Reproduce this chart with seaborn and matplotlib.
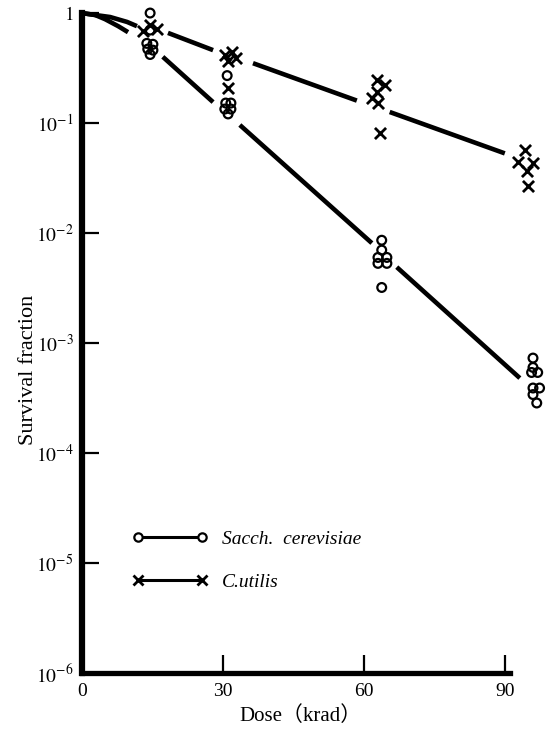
import pandas as pd
import seaborn as sns
import matplotlib.pyplot as plt
from matplotlib.lines import Line2D
from matplotlib.legend_handler import HandlerLine2D
from matplotlib.font_manager import FontProperties

# Sacch. cerevisiae, individual points (open circles)
sacch_dose = [14.5, 14.5, 13.8, 15.1, 14.0, 15.1, 14.5,
              30.9, 30.6, 31.7, 30.4, 31.7, 31.1,
              63.8, 63.8, 63.0, 64.9, 63.0, 64.9, 63.8,
              96.0, 96.0, 95.7, 97.0, 96.0, 97.4, 96.0, 96.8]
sacch_surv = [1.0, 0.70, 0.53, 0.52, 0.47, 0.46, 0.42,
              0.27, 0.152, 0.152, 0.134, 0.134, 0.121,
              0.0086, 0.0070, 0.0060, 0.0060, 0.0053, 0.0053, 0.0032,
              7.3e-4, 6.0e-4, 5.4e-4, 5.4e-4, 3.9e-4, 3.9e-4, 3.4e-4, 2.85e-4]

# C. utilis, individual points (crosses)
utilis_dose = [13.0, 16.0, 14.5,
               30.4, 31.9, 32.8, 31.1, 31.1,
               62.8, 64.5, 62.8, 61.7, 63.0, 63.4,
               94.3, 92.8, 96.0, 94.7, 94.9]
utilis_surv = [0.69, 0.72, 0.78,
               0.415, 0.44, 0.39, 0.37, 0.21,
               0.246, 0.221, 0.191, 0.169, 0.152, 0.081,
               0.057, 0.044, 0.043, 0.037, 0.027]

# survival curves as drawn in the figure, broken around the point clusters
sacch_curve_dose = [0, 2.8, 4.9, 7.7, 9.8, 17.2, 27.9, 33.6, 61.7, 67.0, 93.2]
sacch_curve_surv = [1.0, 0.96, 0.88, 0.76, 0.67, 0.40, 0.155, 0.096, 0.0081, 0.0049, 4.8e-4]
sacch_curve_seg = [0, 0, 0, 0, 0, 1, 1, 2, 2, 3, 3]

utilis_curve_dose = [0, 1.3, 6.0, 9.6, 11.7, 18.3, 27.9, 36.4, 58.5, 65.5, 90.0]
utilis_curve_surv = [1.0, 0.98, 0.92, 0.83, 0.76, 0.66, 0.46, 0.35, 0.16, 0.126, 0.053]
utilis_curve_seg = [0, 0, 0, 0, 0, 1, 1, 2, 2, 3, 3]

x_ticks = [0, 30, 60, 90]
y_ticks = [1e-6, 1e-5, 1e-4, 1e-3, 1e-2, 1e-1, 1]
y_ticklabels = ['$10^{-6}$', '$10^{-5}$', '$10^{-4}$', '$10^{-3}$',
                '$10^{-2}$', '$10^{-1}$', '$1$']

sns.set_style('ticks', {'axes.edgecolor': 'black', 'xtick.color': 'black',
                        'ytick.color': 'black', 'text.color': 'black',
                        'axes.labelcolor': 'black'})
plt.rcParams['font.family'] = ['Liberation Serif', 'Noto Sans CJK SC', 'DejaVu Sans']
plt.rcParams['mathtext.fontset'] = 'stix'

fig = plt.figure(figsize=(5.54, 7.37), dpi=100)
ax = fig.add_axes([0.148, 0.0868, 0.848, 0.8955])
ax.set_yscale('log')

sacch_curve = pd.DataFrame({'dose': sacch_curve_dose, 'surv': sacch_curve_surv,
                            'seg': sacch_curve_seg})
utilis_curve = pd.DataFrame({'dose': utilis_curve_dose, 'surv': utilis_curve_surv,
                             'seg': utilis_curve_seg})
for curve in (sacch_curve, utilis_curve):
    sns.lineplot(data=curve, x='dose', y='surv', units='seg', estimator=None,
                 sort=False, color='black', linewidth=3.3, ax=ax,
                 solid_capstyle='butt', clip_on=False)

sns.scatterplot(x=sacch_dose, y=sacch_surv, marker='o', s=40, color='black',
                facecolor='none', edgecolor='black', linewidth=1.6, ax=ax,
                clip_on=False, zorder=3)
sns.scatterplot(x=utilis_dose, y=utilis_surv, marker='x', s=64, color='black',
                linewidth=2.0, ax=ax, clip_on=False, zorder=3)

ax.set_xlim(0, 100)
ax.set_ylim(1e-6, 1)
ax.set_xticks(x_ticks)
ax.set_xticklabels([str(t) for t in x_ticks])
ax.set_yticks(y_ticks)
ax.set_yticklabels(y_ticklabels)
ax.minorticks_off()

sns.despine(ax=ax)
ax.spines['left'].set_linewidth(4.5)
ax.spines['bottom'].set_linewidth(3.8)
ax.spines['bottom'].set_bounds(0, 91)
ax.tick_params(axis='x', direction='in', length=13, width=1.6, labelsize=14, pad=7)
ax.tick_params(axis='y', direction='in', length=12, width=1.6, labelsize=14, pad=6)

ax.set_xlabel('Dose（krad）', fontsize=15)
ax.set_ylabel('Survival fraction', fontsize=16)
ax.xaxis.set_label_coords(0.464, -0.05)
ax.yaxis.set_label_coords(-0.094, 0.46)

handles = [Line2D([], [], color='black', lw=2.2, marker='o', ms=6,
                  mfc='white', mec='black', mew=1.6),
           Line2D([], [], color='black', lw=2.2, marker='x', ms=6.5, mew=2)]
ax.legend(handles, ['Sacch.  cerevisiae', 'C.utilis'], numpoints=2,
          handler_map={Line2D: HandlerLine2D(marker_pad=0)},
          frameon=False, loc='center left', bbox_to_anchor=(0.249, 0.239),
          bbox_transform=fig.transFigure, handlelength=3.3, handletextpad=1.0,
          labelspacing=1.3, borderpad=0, borderaxespad=0,
          prop=FontProperties(family='Liberation Serif', style='italic', size=14))

fig.savefig('out.png', dpi=100)
